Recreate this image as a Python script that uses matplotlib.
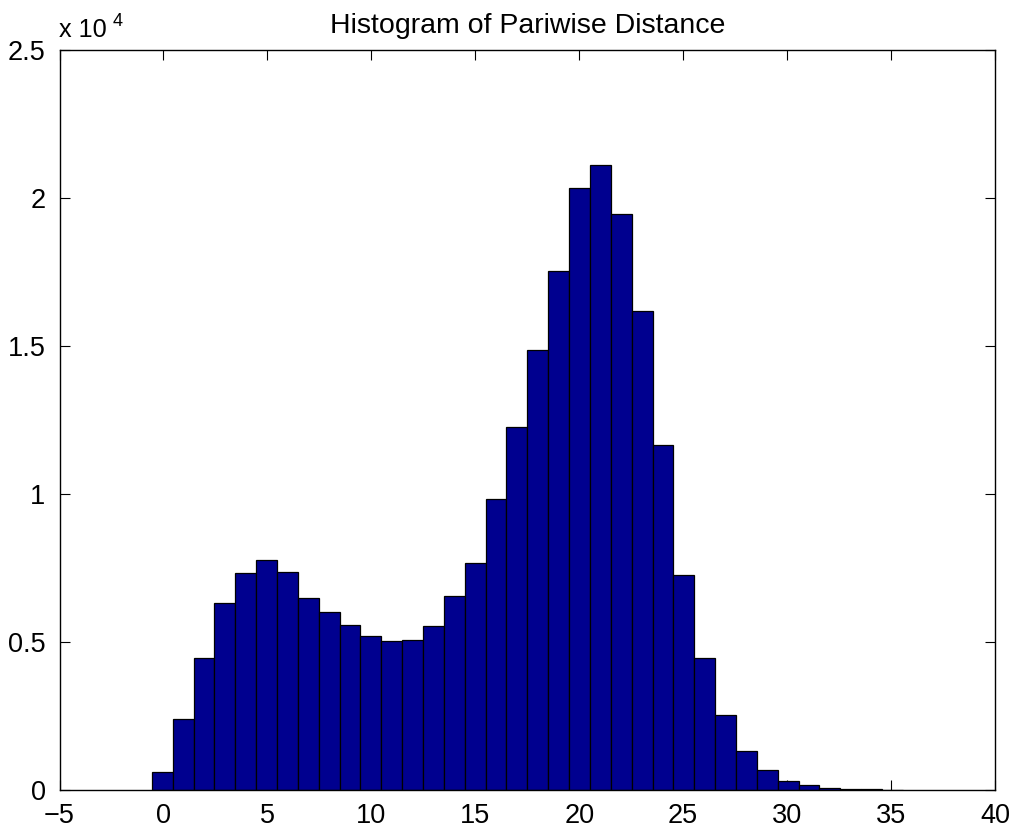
import numpy as np
import matplotlib
matplotlib.use("Agg")
import matplotlib.pyplot as plt

# Histogram counts (36 bins)
counts = [600, 2400, 4465, 6326, 7331, 7781, 7375, 6495, 5998, 5558,
          5210, 5041, 5074, 5540, 6540, 7669, 9821, 12257, 14851, 17524,
          20321, 21120, 19452, 16181, 11661, 7273, 4476, 2520, 1330, 666,
          315, 180, 78, 45, 20, 10]
bin_lo, bin_hi = -0.56, 35.57
x_ticks = [-5, 0, 5, 10, 15, 20, 25, 30, 35, 40]
y_ticks = [0, 5000, 10000, 15000, 20000, 25000]
y_tick_labels = ["0", "0.5", "1", "1.5", "2", "2.5"]
title = "Histogram of Pariwise Distance"

plt.rcParams['font.family'] = ['Liberation Sans', 'DejaVu Sans']

fig = plt.figure(figsize=(10.18, 8.3), dpi=100)
ax = fig.add_axes([59.5 / 1018, 40 / 830, (995 - 59.5) / 1018, (790 - 50) / 830])

n = len(counts)
edges = np.linspace(bin_lo, bin_hi, n + 1)
centers = (edges[:-1] + edges[1:]) / 2
width = edges[1] - edges[0]
ax.bar(centers, counts, width=width, color='#00008F', edgecolor='black',
       linewidth=0.9, zorder=2)

ax.set_xlim(-5, 40)
ax.set_ylim(0, 25000)
ax.set_xticks(x_ticks)
ax.set_xticklabels([("\u2212" + str(-t)) if t < 0 else str(t) for t in x_ticks])
ax.set_yticks(y_ticks)
ax.set_yticklabels(y_tick_labels)
ax.tick_params(direction='in', length=7, width=0.8, labelsize=19.5,
               top=True, right=True, pad=9)
ax.tick_params(axis='y', pad=10)
for s in ax.spines.values():
    s.set_linewidth(1.0)
    s.set_zorder(3)

ax.set_title(title, fontsize=20.5, pad=12)

fig.text(59 / 1018, 1 - 37 / 830, "x 10", fontsize=18.2, ha='left', va='baseline')
fig.text(113 / 1018, 1 - 26 / 830, "4", fontsize=13, ha='left', va='baseline')

fig.savefig("out.png", dpi=100)
